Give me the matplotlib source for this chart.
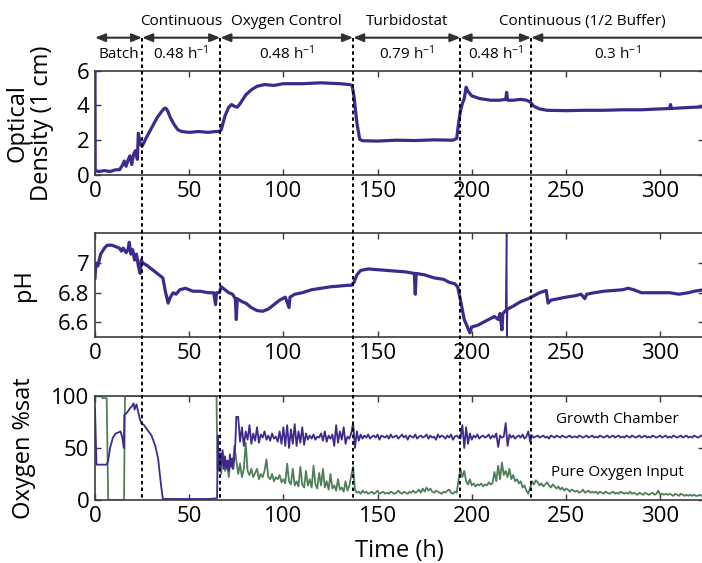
import numpy as np
import matplotlib
matplotlib.use('Agg')
import matplotlib.pyplot as plt
from matplotlib.transforms import blended_transform_factory
from matplotlib.lines import Line2D
from matplotlib.patches import ArrowStyle

plt.rcParams['font.family'] = ['Open Sans', 'DejaVu Sans']
plt.rcParams['mathtext.default'] = 'regular'

PURPLE = '#3f2a8c'
GREEN = '#4f7f59'
SPINE = '#3c3c3c'

# ---------------- data ----------------
x_ticks = [0, 50, 100, 150, 200, 250, 300]
x_max = 323

phase_bounds = [0, 25, 66.5, 137, 194, 231.5, 335]
phase_names = [("Continuous", 25, 66.5), ("Oxygen Control", 66.5, 137),
               ("Turbidostat", 137, 194), ("Continuous (1/2 Buffer)", 194, 323)]
rate_labels = ["Batch", "0.48 h$^{-1}$", "0.48 h$^{-1}$", "0.79 h$^{-1}$",
               "0.48 h$^{-1}$", "0.3 h$^{-1}$"]

od_points = [(0, 6.0), (0.1, 0.3), (0.3, 0.25), (2, 0.2), (5, 0.25), (8, 0.2), (11, 0.3),
             (13, 0.3), (14.5, 0.55), (15.5, 0.8), (16.5, 0.5), (17.5, 0.85), (18.5, 1.1),
             (19.5, 0.6), (20.5, 1.2), (21.5, 1.4), (22.5, 0.9), (23, 2.4), (24, 1.8),
             (25, 1.65), (27, 2.1), (30, 2.7), (33, 3.3), (35, 3.6), (36.5, 3.8), (37.5, 3.85),
             (38.5, 3.7), (40, 3.3), (42, 2.9), (44, 2.6), (46, 2.5), (50, 2.45), (55, 2.5),
             (60, 2.45), (64, 2.5), (66, 2.5), (67, 2.6), (69, 3.4), (71, 3.9), (72.5, 4.05),
             (74, 3.95), (75.5, 3.9), (77, 4.1), (80, 4.6), (83, 4.9), (86, 5.1), (90, 5.2),
             (95, 5.15), (100, 5.25), (110, 5.25), (120, 5.3), (130, 5.25), (135, 5.2),
             (136.5, 5.15), (137.5, 4.5), (139, 3.0), (140.5, 2.05), (142, 1.97), (150, 1.95),
             (160, 2.0), (170, 1.98), (180, 2.02), (190, 2.0), (192, 2.1), (193, 3.0),
             (194, 3.7), (195, 4.1), (196, 4.4), (197, 5.05), (198, 4.8), (200, 4.55),
             (204, 4.4), (210, 4.3), (215, 4.3), (218, 4.35), (218.5, 4.75), (219, 4.3),
             (222, 4.3), (226, 4.35), (229, 4.3), (231, 4.2), (233, 3.95), (236, 3.8),
             (240, 3.72), (250, 3.7), (260, 3.72), (270, 3.72), (280, 3.75), (290, 3.75),
             (300, 3.8), (305, 3.82), (305.5, 4.05), (306, 3.82), (310, 3.85), (315, 3.88),
             (323, 3.92)]

ph_points = [(0, 6.9), (0.5, 7.0), (1.5, 6.98), (3, 7.06), (5, 7.1), (6.5, 7.12), (9, 7.12),
             (11, 7.11), (13, 7.1), (14, 7.08), (15, 7.1), (16.5, 7.07), (17.5, 7.09),
             (18.2, 7.14), (19, 7.06), (20, 7.09), (21, 7.02), (22, 7.06), (23, 6.98),
             (24, 6.93), (24.5, 7.02), (25.5, 7.0), (28, 6.98), (31, 6.95), (34, 6.92),
             (36, 6.9), (37.5, 6.8), (38.8, 6.73), (40, 6.77), (41.5, 6.8), (43, 6.79),
             (45, 6.82), (48, 6.83), (52, 6.81), (56, 6.81), (60, 6.8), (63, 6.8), (64, 6.72),
             (64.5, 6.8), (66, 6.8), (67, 6.84), (69, 6.82), (71, 6.8), (73, 6.79),
             (74.5, 6.76), (75, 6.62), (75.5, 6.76), (78, 6.74), (80, 6.73), (83, 6.7),
             (86, 6.68), (89, 6.675), (92, 6.69), (95, 6.72), (98, 6.75), (101, 6.77),
             (103, 6.7), (103.5, 6.77), (106, 6.79), (110, 6.8), (115, 6.82), (120, 6.83),
             (125, 6.84), (130, 6.845), (134, 6.85), (136, 6.85), (137.5, 6.87), (139, 6.92),
             (141, 6.95), (145, 6.96), (150, 6.955), (155, 6.95), (160, 6.945), (165, 6.94),
             (169.5, 6.93), (170, 6.79), (170.5, 6.93), (175, 6.92), (180, 6.9), (185, 6.89),
             (188, 6.87), (191, 6.86), (192.5, 6.84), (194, 6.75), (196, 6.62), (198, 6.56),
             (199, 6.53), (200, 6.57), (203, 6.58), (206, 6.6), (209, 6.62), (212, 6.64),
             (214, 6.62), (215, 6.66), (216, 6.55), (216.5, 6.66), (218, 6.68)]
ph_points_b = [(219, 6.69), (222, 6.71), (226, 6.74), (230, 6.76), (233, 6.78),
               (236, 6.8), (239.5, 6.815), (240.5, 6.73), (242, 6.75), (246, 6.76), (250, 6.77),
               (255, 6.78), (258, 6.79), (260, 6.76), (261, 6.79), (265, 6.8), (270, 6.81),
               (275, 6.815), (280, 6.82), (283, 6.83), (286, 6.82), (290, 6.8), (295, 6.8),
               (300, 6.8), (305, 6.8), (310, 6.79), (315, 6.8), (318, 6.81), (323, 6.82)]
ph_spike = [(218, 6.68), (218.5, 7.25), (218.7, 6.5), (219, 6.69)]

o2_chamber_early = [(0, 88), (0.8, 34), (3, 34), (6.2, 34), (7, 38), (8, 50), (9.5, 60),
                    (11, 64), (12.5, 65), (13.5, 66), (14.5, 60), (15.3, 50), (15.6, 82),
                    (17, 84), (18.5, 88), (19.5, 90), (20.5, 93), (21, 87), (22, 92), (23, 84),
                    (23.8, 78), (24.5, 74), (26, 72), (28, 67), (30, 62), (32, 52), (33.5, 40),
                    (35, 15), (36, 1), (40, 1), (50, 1), (60, 1), (64.3, 1.5), (64.8, 2),
                    (65.2, 62), (65.5, 40), (66, 28), (66.5, 45), (67, 33), (67.7, 48),
                    (68.3, 30), (69, 42), (69.6, 30), (70.3, 38), (71, 28), (71.6, 44),
                    (72.2, 32), (72.8, 40), (73.4, 30), (74, 42), (74.5, 55), (75, 80)]
o2_chamber_late_start = 76
o2_chamber_late = [
    80, 56, 70, 52, 66, 58, 72, 54, 64, 57,
    70, 55, 63, 60, 66, 58, 62, 57, 64, 59,
    61, 56, 66, 54, 70, 52, 72, 50, 68, 54,
    73, 52, 66, 55, 70, 53, 64, 58, 62, 59,
    63, 58, 61, 60, 64, 57, 66, 56, 62, 59,
    63, 52, 72, 55, 66, 58, 70, 54, 61, 59,
    64, 74, 50, 66, 57, 63, 59, 62, 60, 63,
    59, 61, 62, 60, 63, 58, 62, 61, 60, 62,
    59, 63, 60, 61, 62, 59, 61, 63, 60, 62,
    58, 62, 61, 60, 63, 59, 61, 62, 60, 61,
    63, 59, 62, 60, 61, 58, 63, 60, 62, 61,
    59, 62, 60, 63, 58, 61, 62, 60, 59, 72,
    50, 70, 54, 64, 58, 62, 60, 63, 59, 61,
    62, 60, 61, 63, 59, 62, 60, 64, 51, 62,
    60, 61, 74, 52, 63, 60, 62, 59, 61, 62,
    60, 63, 59, 61, 66, 56, 62, 60, 61, 62,
    60, 61, 62, 60, 61, 59, 62, 61, 60, 62,
    61, 60, 62, 61, 60, 61, 62, 60, 61, 61,
    60, 62, 61, 60, 61, 62, 60, 61, 62, 60,
    61, 60, 62, 61, 60, 61, 62, 60, 61, 62,
    60, 61, 62, 60, 61, 60, 62, 61, 60, 62,
    61, 60, 61, 62, 60, 61, 62, 60, 61, 60,
    62, 61, 60, 61, 62, 60, 61, 62, 60, 61,
    60, 62, 61, 60, 61, 62, 60, 61, 62, 60,
    61, 60, 62, 61, 60, 61, 62, 61]

o2_input_early = [(0, 100), (3.5, 100), (4, 98), (6.2, 98), (7, 0), (15.4, 0), (15.9, 100),
                  (64.5, 100)]
o2_input_late_start = 65
o2_input_late = [
    30, 42, 25, 45, 28, 38, 22, 40, 30, 52,
    38, 25, 35, 22, 30, 55, 28, 24, 30, 22,
    26, 30, 20, 25, 22, 28, 39, 22, 20, 25,
    18, 22, 20, 24, 17, 20, 16, 35, 18, 15,
    30, 14, 18, 13, 32, 15, 12, 28, 14, 20,
    12, 33, 15, 11, 26, 14, 30, 12, 18, 10,
    25, 11, 14, 9, 20, 10, 12, 8, 18, 9,
    14, 23, 32, 10, 7, 8, 6, 9, 7, 8,
    6, 7, 8, 6, 7, 9, 6, 7, 8, 6,
    7, 6, 8, 7, 6, 7, 9, 7, 6, 8,
    7, 6, 8, 7, 9, 7, 8, 10, 7, 11,
    8, 12, 9, 11, 8, 7, 9, 8, 7, 6,
    8, 7, 9, 10, 7, 6, 8, 7, 20, 30,
    22, 28, 18, 15, 20, 14, 16, 13, 15, 14,
    16, 13, 15, 14, 17, 15, 16, 27, 18, 33,
    20, 36, 24, 28, 22, 30, 20, 24, 18, 20,
    16, 18, 12, 14, 9, 6, 12, 18, 15, 19,
    17, 14, 16, 13, 15, 17, 14, 12, 15, 13,
    11, 13, 10, 12, 9, 11, 10, 8, 10, 9,
    8, 9, 7, 8, 10, 7, 8, 9, 7, 8,
    7, 8, 6, 8, 7, 6, 8, 7, 6, 7,
    8, 6, 7, 6, 8, 7, 6, 7, 6, 8,
    6, 7, 6, 5, 7, 6, 5, 7, 6, 5,
    6, 7, 5, 6, 9, 5, 6, 5, 6, 5,
    6, 5, 4, 6, 5, 4, 6, 5, 4, 5,
    4, 5, 4, 5, 4, 4, 5, 4, 4]

# ---------------- figure ----------------
fig = plt.figure(figsize=(7.02, 5.63), dpi=100)
L, W = 95 / 702, 608.5 / 702
ax1 = fig.add_axes([L, 0.6892, W, 0.1853])
ax2 = fig.add_axes([L, 0.4009, W, 0.1847])
ax3 = fig.add_axes([L, 0.1119, W, 0.1847])

od = np.array(od_points)
ph = np.array(ph_points)
phb = np.array(ph_points_b)
phs = np.array(ph_spike)
ce = np.array(o2_chamber_early)
ie = np.array(o2_input_early)
cl_t = o2_chamber_late_start + np.arange(len(o2_chamber_late))
il_t = o2_input_late_start + np.arange(len(o2_input_late))

ax1.plot(od[:, 0], od[:, 1], color=PURPLE, lw=2.3)
ax2.plot(ph[:, 0], ph[:, 1], color=PURPLE, lw=2.3)
ax2.plot(phb[:, 0], phb[:, 1], color=PURPLE, lw=2.3)
ax2.plot(phs[:, 0], phs[:, 1], color=PURPLE, lw=1.1)

ax3.plot(np.concatenate([ie[:, 0], il_t]), np.concatenate([ie[:, 1], o2_input_late]),
         color=GREEN, lw=1.3)
ax3.plot(np.concatenate([ce[:, 0], cl_t]), np.concatenate([ce[:, 1], o2_chamber_late]),
         color=PURPLE, lw=1.3)

ax1.set_ylim(0, 6)
ax1.set_yticks([0, 2, 4, 6])
ax2.set_ylim(6.5, 7.2)
ax2.set_yticks([6.6, 6.8, 7.0])
ax2.set_yticklabels(['6.6', '6.8', '7'])
ax3.set_ylim(0, 100)
ax3.set_yticks([0, 50, 100])

for ax in (ax1, ax2, ax3):
    ax.set_xlim(0, x_max)
    ax.set_xticks(x_ticks)
    ax.tick_params(direction='in', top=True, right=True, length=4, width=1,
                   color=SPINE, labelsize=16, pad=4)
    for s in ax.spines.values():
        s.set_color(SPINE)
        s.set_linewidth(1.2)

ax1.set_ylabel("Optical\nDensity (1 cm)", fontsize=17, linespacing=1.0)
ax1.yaxis.set_label_coords(-0.068, 0.5)
ax2.set_ylabel("pH", fontsize=17)
ax2.yaxis.set_label_coords(-0.097, 0.5)
ax3.set_ylabel("Oxygen %sat", fontsize=17)
ax3.yaxis.set_label_coords(-0.097, 0.5)
ax3.set_xlabel("Time (h)", fontsize=17, va='top')
ax3.xaxis.set_label_coords(0.5, -0.375)

ax3.text(277.5, 77, "Growth Chamber", ha='center', va='center', fontsize=11)
ax3.text(277.5, 26, "Pure Oxygen Input", ha='center', va='center', fontsize=11)

# dashed phase boundaries across all panels
tr = blended_transform_factory(ax1.transData, fig.transFigure)
y_top = 1 - 37.7 / 563
y_bot = 1 - 500 / 563
for b in phase_bounds[1:-1]:
    fig.add_artist(Line2D([b, b], [y_top, y_bot], transform=tr, color='black', lw=1.4,
                          linestyle=(0, (1.8, 1.6)), zorder=10, clip_on=False))

# arrows and phase labels
style = ArrowStyle('<|-|>', head_length=0.5, head_width=0.2)
for a, b in zip(phase_bounds[:-1], phase_bounds[1:]):
    ax1.annotate('', xy=(b, y_top), xytext=(a, y_top), xycoords=tr, textcoords=tr,
                 arrowprops=dict(arrowstyle=style, color='#303030', lw=1.5,
                                 shrinkA=0, shrinkB=0, mutation_scale=12),
                 annotation_clip=False)

for (a, b), lab in zip(zip(phase_bounds[:-1], phase_bounds[1:]), rate_labels):
    c = (a + min(b, x_max)) / 2
    ax1.text(c, 1 - 54 / 563, lab, transform=tr, ha='center', va='center', fontsize=11)

for name, a, b in phase_names:
    ax1.text((a + b) / 2, 1 - 21.7 / 563, name, transform=tr, ha='center', va='center',
             fontsize=11)

fig.savefig('out.png', dpi=100)
